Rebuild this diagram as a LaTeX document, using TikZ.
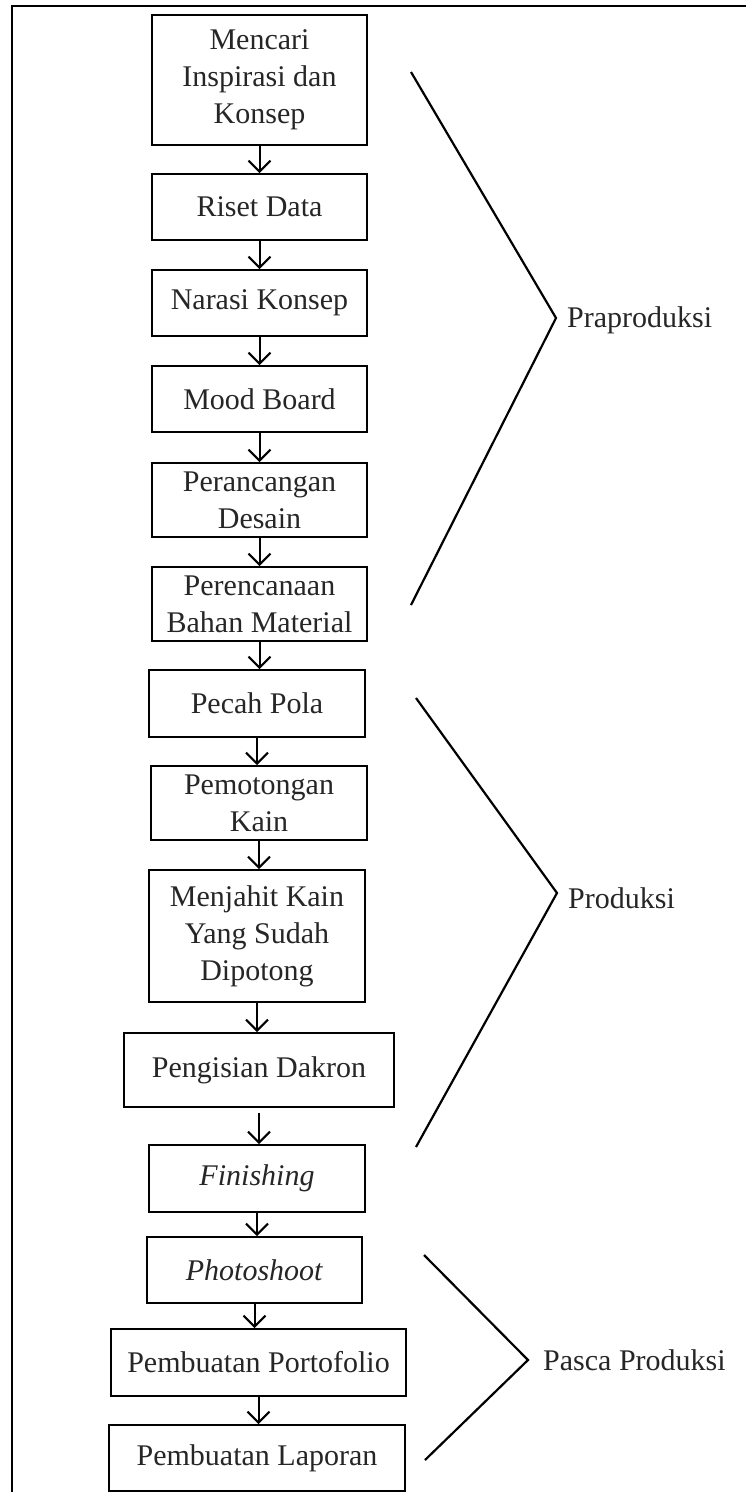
\documentclass[tikz,border=0pt]{standalone}
\usepackage{fontspec}
\setmainfont{Liberation Serif}
\usetikzlibrary{arrows.meta}

\tikzset{
  stepbox/.style={draw, line width=2pt, align=center, inner sep=2pt, text=black!85},
  flow/.style={-{Straight Barb[length=11pt,width=22pt,line width=2pt]}, line width=2pt},
  brace/.style={line width=2.2pt},
  phase/.style={anchor=west, inner sep=0pt, text=black!85},
}

\begin{document}
\begin{tikzpicture}[x=1pt, y=-1pt, font=\fontsize{30}{37}\selectfont]
\useasboundingbox (0,0) rectangle (746,1492);

% Frame
\draw[line width=2pt] (12,1492) -- (12,6) -- (746,6);

% Praproduksi
\node[stepbox, minimum width=215pt, minimum height=130pt] (mencari) at (259.5,80) {Mencari\\Inspirasi dan\\Konsep};
\node[stepbox, minimum width=215pt, minimum height=66pt] (riset) at (259.5,207) {Riset Data};
\node[stepbox, minimum width=215pt, minimum height=66pt] (narasi) at (259.5,303) {Narasi Konsep};
\node[stepbox, minimum width=215pt, minimum height=66pt] (mood) at (259.5,399) {Mood Board};
\node[stepbox, minimum width=215pt, minimum height=74pt] (rancang) at (259.5,500) {Perancangan\\Desain};
\node[stepbox, minimum width=215pt, minimum height=74pt] (bahan) at (259.5,604) {Perencanaan\\Bahan Material};

% Produksi
\node[stepbox, minimum width=216pt, minimum height=67pt] (pola) at (257,703.5) {Pecah Pola};
\node[stepbox, minimum width=216pt, minimum height=74pt] (potong) at (259,803) {Pemotongan\\Kain};
\node[stepbox, minimum width=216pt, minimum height=132pt] (jahit) at (257,936) {Menjahit Kain\\Yang Sudah\\Dipotong};
\node[stepbox, minimum width=270pt, minimum height=74pt] (dakron) at (259,1070) {Pengisian Dakron};
\node[stepbox, minimum width=216pt, minimum height=67pt] (finish) at (257,1178.5) {\textit{Finishing}};

% Pasca Produksi
\node[stepbox, minimum width=215pt, minimum height=66pt] (foto) at (254.5,1270) {\textit{Photoshoot}};
\node[stepbox, minimum width=295pt, minimum height=67pt] (porto) at (258.5,1362.5) {Pembuatan Portofolio};
\node[stepbox, minimum width=296pt, minimum height=66pt] (lapor) at (257,1458) {Pembuatan Laporan};

% Arrows
\draw[flow] (mencari.south) -- (mencari.south |- riset.north);
\draw[flow] (riset.south) -- (riset.south |- narasi.north);
\draw[flow] (narasi.south) -- (narasi.south |- mood.north);
\draw[flow] (mood.south) -- (mood.south |- rancang.north);
\draw[flow] (rancang.south) -- (rancang.south |- bahan.north);
\draw[flow] (bahan.south) -- (bahan.south |- pola.north);
\draw[flow] (pola.south) -- (pola.south |- potong.north);
\draw[flow] (potong.south) -- (potong.south |- jahit.north);
\draw[flow] (jahit.south) -- (jahit.south |- dakron.north);
\draw[flow, shorten <=5pt] (dakron.south) -- (dakron.south |- finish.north);
\draw[flow] (finish.south) -- (finish.south |- foto.north);
\draw[flow] (foto.south) -- (foto.south |- porto.north);
\draw[flow] (porto.south) -- (porto.south |- lapor.north);

% Brackets
\coordinate (pratop) at (411,72);
\coordinate (pratip) at (556,318);
\coordinate (prabot) at (411,605);
\coordinate (protop) at (416,698);
\coordinate (protip) at (557,893);
\coordinate (probot) at (416,1147);
\coordinate (pastop) at (424,1255);
\coordinate (pastip) at (528,1360);
\coordinate (pasbot) at (425,1460);

\draw[brace] (pratop) -- (pratip) -- (prabot);
\draw[brace] (protop) -- (protip) -- (probot);
\draw[brace] (pastop) -- (pastip) -- (pasbot);

\node[phase] (praprod) at ([xshift=11pt,yshift=-2pt]pratip) {Praproduksi};
\node[phase] (prod) at ([xshift=11pt,yshift=-5pt]protip) {Produksi};
\node[phase] (pasca) at ([xshift=15pt]pastip) {Pasca Produksi};
\end{tikzpicture}
\end{document}
